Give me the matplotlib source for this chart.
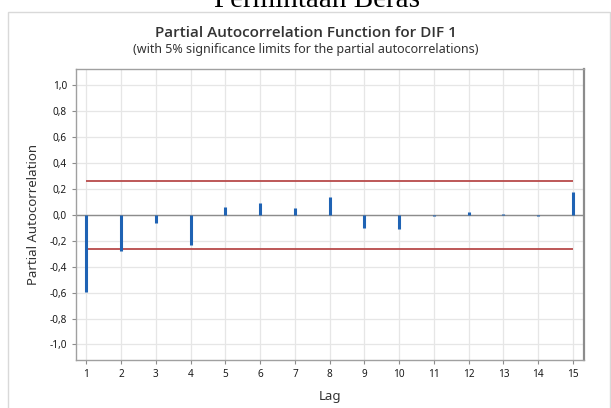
import matplotlib
matplotlib.use("Agg")
import matplotlib.pyplot as plt
from matplotlib.patches import Rectangle

# values
lags = list(range(1, 16))
pacf = [-0.598, -0.282, -0.064, -0.236, 0.059, 0.095, 0.054, 0.136,
        -0.105, -0.113, -0.008, 0.018, 0.008, -0.007, 0.177]
sig_limit = 0.263
yticks = [-1.0, -0.8, -0.6, -0.4, -0.2, 0.0, 0.2, 0.4, 0.6, 0.8, 1.0]
ytick_labels = [f"{v:.1f}".replace(".", ",") for v in yticks]

plt.rcParams['font.family'] = ['Noto Sans', 'DejaVu Sans']

fig = plt.figure(figsize=(6.11, 4.08), dpi=100)
ax = fig.add_axes([0.1244, 0.1176, 0.8314, 0.7133])

# outer frame of the pasted chart
fig.patches.append(Rectangle((8 / 611, -0.05), (610 - 8) / 611, 1.05 - 12.5 / 408,
                             transform=fig.transFigure, fill=False,
                             edgecolor='#d9d9d9', lw=1.0))

# grid
ax.set_axisbelow(True)
ax.grid(True, color='#e6e6e6', lw=0.9)

ax.axhline(0, color='#8c8c8c', lw=1.0, zorder=2)
ax.hlines([sig_limit, -sig_limit], lags[0], lags[-1], color='#b84a4a', lw=1.3, zorder=3)
ax.vlines(lags, 0, pacf, color='#1f63b4', lw=2.2, zorder=4)

ax.set_xlim(0.70, 15.32)
ax.set_ylim(-1.12, 1.125)
ax.set_xticks(lags)
ax.set_yticks(yticks)
ax.set_yticklabels(ytick_labels)
ax.tick_params(labelsize=7.2, colors='#8c8c8c', labelcolor='#1a1a1a', length=3, width=0.8)

for side in ['top', 'left', 'bottom']:
    ax.spines[side].set_color('#a0a0a0')
    ax.spines[side].set_linewidth(1.0)
ax.spines['right'].set_color('#8c8c8c')
ax.spines['right'].set_linewidth(1.6)

ax.set_xlabel('Lag', fontsize=9.5, color='#333333', labelpad=7)
ax.set_ylabel('Partial Autocorrelation', fontsize=9.5, color='#333333', labelpad=7)

fig.text(0.5, 1 - 33 / 408, 'Partial Autocorrelation Function for DIF 1',
         ha='center', va='center', fontsize=11, fontweight='semibold',
         family=['Open Sans', 'DejaVu Sans'], color='#333333')
fig.text(0.5, 1 - 49 / 408, '(with 5% significance limits for the partial autocorrelations)',
         ha='center', va='center', fontsize=9, color='#333333')

# caption above the chart, cut off at the top edge as in the source
fig.text(317 / 611, 1 - 6.7 / 408, 'Permintaan Beras', ha='center', va='baseline',
         fontsize=21, family=['Liberation Serif', 'DejaVu Serif'], color='black')

fig.savefig('out.png', dpi=100)
